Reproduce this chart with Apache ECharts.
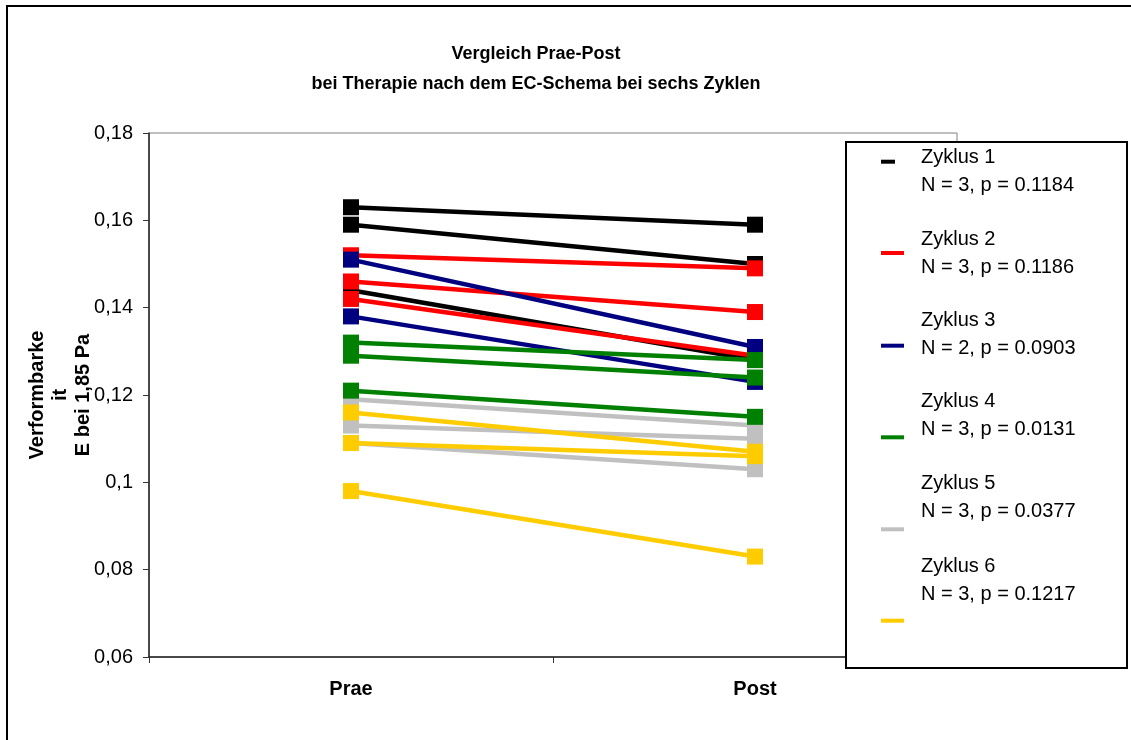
<!DOCTYPE html>
<html>
<head>
<meta charset="utf-8">
<title>Vergleich Prae-Post</title>
<script src="https://cdn.jsdelivr.net/npm/echarts@6/dist/echarts.min.js"></script>
<style>
  html, body { margin: 0; padding: 0; background: #fff; }
  #chart { width: 1131px; height: 740px; }
</style>
</head>
<body>
<div id="chart"></div>
<script>
// Messzeitpunkte
const categories = ['Prae', 'Post'];

// Verformbarkeit je Patient: [Prae, Post]
const zyklus1 = [[0.163, 0.159], [0.159, 0.150], [0.144, 0.128]];
const zyklus2 = [[0.152, 0.149], [0.146, 0.139], [0.142, 0.129]];
const zyklus3 = [[0.151, 0.131], [0.138, 0.123]];
const zyklus4 = [[0.132, 0.128], [0.129, 0.124], [0.121, 0.115]];
const zyklus5 = [[0.119, 0.113], [0.113, 0.110], [0.109, 0.103]];
const zyklus6 = [[0.116, 0.107], [0.109, 0.106], [0.098, 0.083]];

// Gruppen und Statistik
const groupNames = ['Zyklus 1', 'Zyklus 2', 'Zyklus 3', 'Zyklus 4', 'Zyklus 5', 'Zyklus 6'];
const groupN = [3, 3, 2, 3, 3, 3];
const groupP = ['0.1184', '0.1186', '0.0903', '0.0131', '0.0377', '0.1217'];

// y-Achse
const yMin = 0.06, yMax = 0.18, yStep = 0.02;

const groupData = [zyklus1, zyklus2, zyklus3, zyklus4, zyklus5, zyklus6];
const groupColors = ['#000000', '#FF0000', '#000080', '#008000', '#C0C0C0', '#FFCC00'];
// Zeichenreihenfolge (später = oben)
const drawOrder = [0, 1, 2, 4, 3, 5];

const FONT = "'Liberation Sans', Arial, sans-serif";

// Legendenplatzierung: Mitte des Farbstrichs und Mitte des Textblocks
const legendIconY = [161.7, 253, 345.7, 437.3, 529.3, 620.7];
const legendTextY = [171, 253, 334, 415, 497.5, 580.5];
const legendIconW = [14, 23, 23, 23, 23, 23];
const LEGEND_X = 881, LEGEND_TEXT_X = 921, LEGEND_LH = 28;

const series = [];
drawOrder.forEach(function (g) {
  groupData[g].forEach(function (pair) {
    series.push({
      type: 'line',
      name: groupNames[g],
      data: pair,
      symbol: 'rect',
      symbolSize: 16,
      showSymbol: true,
      silent: true,
      color: groupColors[g],
      lineStyle: { width: 4.5, color: groupColors[g] },
      itemStyle: { color: groupColors[g] },
      emphasis: { disabled: true }
    });
  });
});

// Jede Legende: Farbstrich an legendIconY, Text durch eine leere
// Abstandszeile oben oder unten gegenüber dem Strich verschoben
const legends = groupNames.map(function (name, i) {
  const d = legendTextY[i] - legendIconY[i];
  const spacer = Math.max(1, Math.abs(2 * d));
  const boxH = 2 * LEGEND_LH + (Math.abs(d) > 0.1 ? spacer : 0);
  const padLeft = LEGEND_TEXT_X - (LEGEND_X + legendIconW[i] + 5);
  return {
    data: [name],
    orient: 'vertical',
    left: LEGEND_X,
    top: legendIconY[i] - boxH / 2,
    padding: 0,
    z: 60,
    selectedMode: false,
    icon: 'rect',
    itemWidth: legendIconW[i],
    itemHeight: 4,
    formatter: function (n) {
      const body = '{t|' + n + '}\n{t|N = ' + groupN[i] + ', p = ' + groupP[i] + '}';
      if (d > 0.1) return '{s| }\n' + body;
      if (d < -0.1) return body + '\n{s| }';
      return body;
    },
    textStyle: {
      fontFamily: FONT,
      fontSize: 20,
      color: '#000',
      lineHeight: LEGEND_LH,
      rich: {
        t: {
          fontFamily: FONT,
          fontSize: 20,
          color: '#000',
          lineHeight: LEGEND_LH,
          padding: [0, 0, 0, padLeft]
        },
        s: {
          fontSize: 1,
          lineHeight: spacer
        }
      }
    }
  };
});

const option = {
  backgroundColor: '#ffffff',
  animation: false,
  title: {
    text: 'Vergleich Prae-Post\nbei Therapie nach dem EC-Schema bei sechs Zyklen',
    left: 536,
    top: 39,
    padding: 0,
    textAlign: 'center',
    textStyle: {
      fontFamily: FONT,
      fontSize: 18,
      fontWeight: 'bold',
      color: '#000',
      lineHeight: 30
    }
  },
  grid: {
    left: 149,
    right: 174,
    top: 133,
    bottom: 83,
    show: true,
    borderColor: '#808080',
    borderWidth: 1,
    backgroundColor: 'transparent'
  },
  xAxis: {
    type: 'category',
    data: categories,
    boundaryGap: true,
    axisLine: { lineStyle: { color: '#222', width: 1.5 } },
    axisTick: { show: true, length: 6, inside: false, lineStyle: { color: '#333' } },
    axisLabel: {
      margin: 22,
      fontFamily: FONT,
      fontSize: 20,
      fontWeight: 'bold',
      color: '#000',
      lineHeight: 20
    },
    splitLine: { show: false }
  },
  yAxis: {
    type: 'value',
    min: yMin,
    max: yMax,
    interval: yStep,
    name: 'Verformbarke\nit\nE bei 1,85 Pa',
    nameLocation: 'middle',
    nameRotate: 90,
    nameGap: 54,
    nameMoveOverlap: false,
    nameTextStyle: {
      fontFamily: FONT,
      fontSize: 20,
      fontWeight: 'bold',
      color: '#000',
      lineHeight: 23,
      align: 'center'
    },
    axisLine: { show: true, lineStyle: { color: '#222', width: 1.5 } },
    axisTick: { show: true, length: 6, inside: false, lineStyle: { color: '#333' } },
    axisLabel: {
      margin: 16,
      fontFamily: FONT,
      fontSize: 20,
      color: '#000',
      formatter: function (v) {
        return String(+v.toFixed(2)).replace('.', ',');
      }
    },
    splitLine: { show: false }
  },
  legend: legends,
  graphic: [
    {
      type: 'rect',
      z: 50,
      silent: true,
      shape: { x: 846, y: 142, width: 281, height: 526 },
      style: { fill: '#fff', stroke: '#000', lineWidth: 2 }
    },
    {
      type: 'rect',
      z: 70,
      silent: true,
      shape: { x: 7, y: 6, width: 1150, height: 800 },
      style: { fill: 'none', stroke: '#000', lineWidth: 2 }
    }
  ],
  series: series
};

const chart = echarts.init(document.getElementById('chart'), null, { renderer: 'canvas' });
chart.setOption(option);
</script>
</body>
</html>
